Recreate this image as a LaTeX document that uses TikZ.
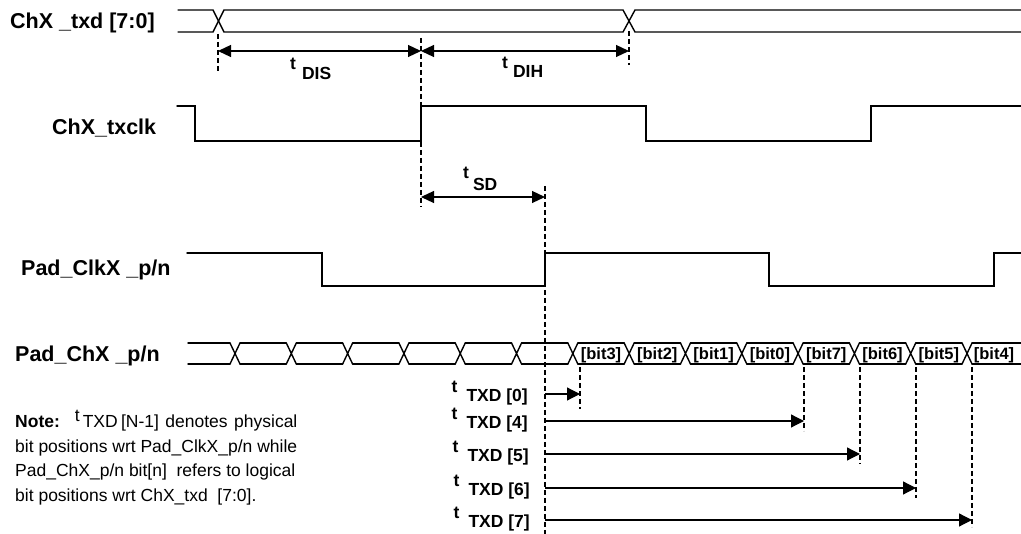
\documentclass[tikz,border=0pt]{standalone}
\usepackage{fontspec}
\setmainfont{Liberation Sans}
\usetikzlibrary{arrows.meta}
\begin{document}
\begin{tikzpicture}[x=1pt,y=-1pt,
  sig/.style={line width=1.4pt, line cap=round, line join=miter},
  guide/.style={line width=1.2pt, dash pattern=on 5pt off 3pt},
  dimarrow/.style={line width=1.2pt, {Triangle[length=13pt,width=12pt]}-{Triangle[length=13pt,width=12pt]}},
  fwdarrow/.style={line width=1.2pt, -{Triangle[length=13pt,width=13pt]}},
  siglabel/.style={anchor=base west, inner sep=0pt, font=\fontsize{21.5}{25}\selectfont\bfseries},
  tlab/.style={anchor=base west, inner sep=0pt, font=\fontsize{17.5}{20}\selectfont\bfseries},
  txdlab/.style={anchor=base east, inner sep=0pt, font=\fontsize{17.5}{20}\selectfont\bfseries},
  bitlab/.style={anchor=base, inner sep=0pt, font=\fontsize{16.5}{18}\selectfont\bfseries},
  notetext/.style={anchor=base west, inner sep=0pt, font=\fontsize{17.5}{24}\selectfont}
]
\useasboundingbox (0,0) rectangle (1021,534);

% ---------- signal labels ----------
\node[siglabel] (lTxd) at (10,29) {ChX \_txd [7:0]};
\node[siglabel] (lTxclk) at (52,135) {ChX\_txclk};
\node[siglabel] (lPadClk) at (21,276) {Pad\_ClkX \_p/n};
\node[siglabel] (lPadCh) at (15,362) {Pad\_ChX \_p/n};

% ---------- ChX_txd bus ----------
\draw[sig] (178,10) -- (213,10) -- (224,32) -- (623,32) -- (635,10) -- (1021,10);
\draw[sig] (178,32) -- (213,32) -- (224,10) -- (623,10) -- (635,32) -- (1021,32);

% ---------- ChX_txclk ----------
\draw[sig] (177,106) -- (195,106) -- (195,141) -- (421,141) -- (421,106) -- (646,106)
  -- (646,141) -- (871,141) -- (871,106) -- (1021,106);

% ---------- Pad_ClkX_p/n ----------
\draw[sig] (187,253) -- (322,253) -- (322,286) -- (545,286) -- (545,253) -- (769,253)
  -- (769,286) -- (994,286) -- (994,253) -- (1021,253);

% ---------- Pad_ChX_p/n bus ----------
\draw[sig] (188,343) -- (230,343) (188,364) -- (230,364);
\foreach \k [evaluate=\k as \c using 235+56.31*\k] in {0,...,13} {
  \draw[sig] (\c-5,343) -- (\c+5,364) (\c-5,364) -- (\c+5,343);
}
\foreach \k [evaluate=\k as \a using 235+56.31*\k+5, evaluate=\k as \b using 235+56.31*(\k+1)-5] in {0,...,12} {
  \draw[sig] (\a,343) -- (\b,343) (\a,364) -- (\b,364);
}
\draw[sig] (972,343) -- (1021,343) (972,364) -- (1021,364);

\foreach \lab [count=\i from 6, evaluate=\i as \m using 235+56.31*\i+28.15] in {bit3,bit2,bit1,bit0,bit7,bit6,bit5} {
  \node[bitlab] (b\lab) at (\m,360) {[\lab]};
}
\node[bitlab] (bbit4) at (994,360) {[bit4]};

% ---------- guide lines ----------
\draw[guide] (218,34) -- (218,72);
\draw[guide] (421,38) -- (421,207);
\draw[guide] (629,31) -- (629,65);
\draw[guide] (545,186) -- (545,534);
\draw[guide] (580,367) -- (580,409);
\draw[guide] (804,367) -- (804,431);
\draw[guide] (860,367) -- (860,464);
\draw[guide] (916,367) -- (916,498);
\draw[guide] (972,367) -- (972,527);

% ---------- dimension coordinates ----------
\coordinate (disA) at (218,51);
\coordinate (disB) at (421,51);
\coordinate (dihB) at (629,51);
\coordinate (sdA) at (421,197);
\coordinate (sdB) at (545,197);
\coordinate (t0A) at (545,394); \coordinate (t0B) at (580,394);
\coordinate (t4A) at (545,421); \coordinate (t4B) at (804,421);
\coordinate (t5A) at (545,454); \coordinate (t5B) at (860,454);
\coordinate (t6A) at (545,488); \coordinate (t6B) at (916,488);
\coordinate (t7A) at (545,520); \coordinate (t7B) at (972,520);

\draw[dimarrow] (disA) -- (disB);
\draw[dimarrow] (disB) -- (dihB);
\draw[dimarrow] (sdA) -- (sdB);
\draw[fwdarrow] (t0A) -- (t0B);
\draw[fwdarrow] (t4A) -- (t4B);
\draw[fwdarrow] (t5A) -- (t5B);
\draw[fwdarrow] (t6A) -- (t6B);
\draw[fwdarrow] (t7A) -- (t7B);

% ---------- timing labels ----------
\node[tlab] (ldis) at (290,80) {\raisebox{10pt}{t}\hspace{6pt}DIS};
\node[tlab] (ldih) at (502,78) {\raisebox{9pt}{t}\hspace{5pt}DIH};
\node[tlab] (lsd) at (463,191) {\raisebox{12pt}{t}\hspace{4pt}SD};
\node[txdlab] (ltxd0) at (528,402) {\raisebox{9pt}{t}\hspace{9pt}TXD [0]};
\node[txdlab] (ltxd4) at (528,429) {\raisebox{9pt}{t}\hspace{9pt}TXD [4]};
\node[txdlab] (ltxd5) at (529,462) {\raisebox{9pt}{t}\hspace{9pt}TXD [5]};
\node[txdlab] (ltxd6) at (530,496) {\raisebox{9pt}{t}\hspace{9pt}TXD [6]};
\node[txdlab] (ltxd7) at (530,528) {\raisebox{9pt}{t}\hspace{9pt}TXD [7]};

% ---------- note ----------
\node[notetext] (n1) at (15,428) {\makebox[282pt][s]{\textbf{Note:}\hspace{15pt}\raisebox{6pt}{t}\hspace{3pt}TXD [N-1] \ denotes \ physical}};
\node[notetext] (n2) at (15,453) {\makebox[282pt][s]{bit positions wrt Pad\_ClkX\_p/n while}};
\node[notetext] (n3) at (15,477) {Pad\_ChX\_p/n bit[n] \ refers to logical};
\node[notetext] (n4) at (15,502) {bit positions wrt ChX\_txd \ [7:0].};
\end{tikzpicture}
\end{document}
